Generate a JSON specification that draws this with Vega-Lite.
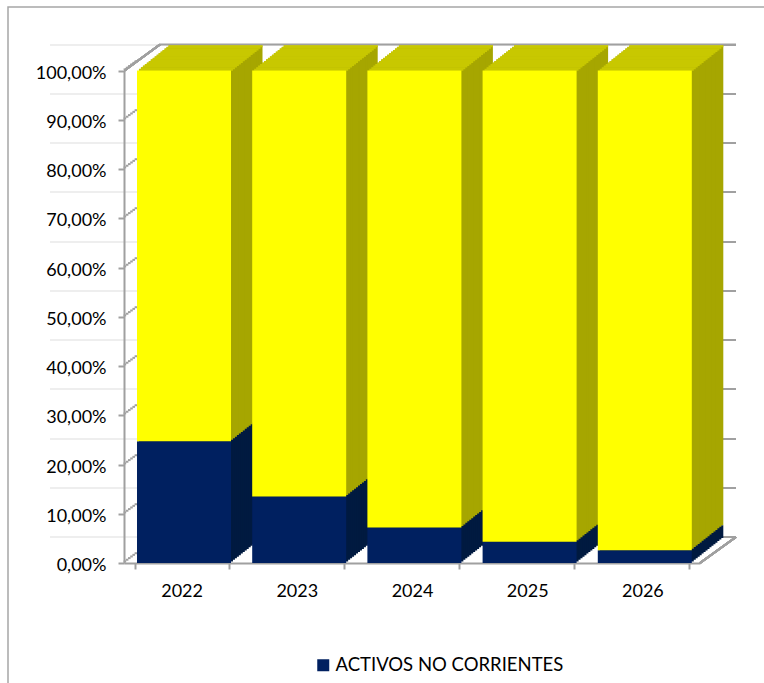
{
  "$schema": "https://vega.github.io/schema/vega-lite/v6.json",
  "usermeta": {"embedOptions": {"actions": false}},
  "autosize": {"type": "none"},
  "padding": {"left": 8, "top": 7, "right": -4, "bottom": -4},
  "width": 760,
  "height": 680,
  "background": "white",
  "view": {"stroke": "#a6a6a6", "strokeWidth": 1.5},
  "config": {"font": "Lato"},
  "data": {"values": [
    {"anio": "2022", "serie": "ACTIVOS NO CORRIENTES", "valor": 24.7},
    {"anio": "2022", "serie": "ACTIVOS CORRIENTES", "valor": 75.3},
    {"anio": "2023", "serie": "ACTIVOS NO CORRIENTES", "valor": 13.5},
    {"anio": "2023", "serie": "ACTIVOS CORRIENTES", "valor": 86.5},
    {"anio": "2024", "serie": "ACTIVOS NO CORRIENTES", "valor": 7.2},
    {"anio": "2024", "serie": "ACTIVOS CORRIENTES", "valor": 92.8},
    {"anio": "2025", "serie": "ACTIVOS NO CORRIENTES", "valor": 4.3},
    {"anio": "2025", "serie": "ACTIVOS CORRIENTES", "valor": 95.7},
    {"anio": "2026", "serie": "ACTIVOS NO CORRIENTES", "valor": 2.6},
    {"anio": "2026", "serie": "ACTIVOS CORRIENTES", "valor": 97.4}
  ]},
  "encoding": {
    "x": {"field": "anio", "type": "ordinal", "scale": {"range": [116, 692], "paddingInner": 0.184, "paddingOuter": 0.092}, "axis": null},
    "y": {"field": "valor", "type": "quantitative", "stack": "zero", "scale": {"domain": [0, 100], "range": [556, 63.5], "nice": false}, "axis": null},
    "order": {"field": "serie", "sort": "descending"}
  },
  "resolve": {"axis": {"x": "independent", "y": "independent"}},
  "layer": [
    {"mark": {"type": "bar", "xOffset": 33.9, "x2Offset": 33.9, "yOffset": -25, "y2Offset": -25},
     "encoding": {
       "x": {"field": "anio", "type": "ordinal", "axis": {"orient": "top", "title": null, "labels": false, "ticks": false, "domain": true, "domainColor": "#a0a0a0", "domainWidth": 2, "translate": 36, "offset": -1.5}},
       "y": {"field": "valor", "type": "quantitative", "stack": "zero", "axis": {"orient": "right", "title": null, "labels": false, "domain": false, "ticks": true, "tickSize": 14, "tickWidth": 2, "tickColor": "#a0a0a0", "values": [0,10,20,30,40,50,60,70,80,90,100], "translate": -26, "offset": -20}},
       "detail": {"field": "serie"},
       "color": {"condition": {"test": "datum.serie === 'ACTIVOS NO CORRIENTES'", "value": "#001a40"}, "value": "#a6a600"}}},
    {"mark": {"type": "bar", "xOffset": 31.93, "x2Offset": 31.93, "yOffset": -23.44, "y2Offset": -23.44}, "encoding": {"detail": {"field": "serie"}, "color": {"condition": {"test": "datum.serie === 'ACTIVOS NO CORRIENTES'", "value": "#001a40"}, "value": "#a6a600"}}},
    {"mark": {"type": "bar", "xOffset": 29.96, "x2Offset": 29.96, "yOffset": -21.88, "y2Offset": -21.88}, "encoding": {"detail": {"field": "serie"}, "color": {"condition": {"test": "datum.serie === 'ACTIVOS NO CORRIENTES'", "value": "#001a40"}, "value": "#a6a600"}}},
    {"mark": {"type": "bar", "xOffset": 27.99, "x2Offset": 27.99, "yOffset": -20.31, "y2Offset": -20.31}, "encoding": {"detail": {"field": "serie"}, "color": {"condition": {"test": "datum.serie === 'ACTIVOS NO CORRIENTES'", "value": "#001a40"}, "value": "#a6a600"}}},
    {"mark": {"type": "bar", "xOffset": 26.03, "x2Offset": 26.03, "yOffset": -18.75, "y2Offset": -18.75}, "encoding": {"detail": {"field": "serie"}, "color": {"condition": {"test": "datum.serie === 'ACTIVOS NO CORRIENTES'", "value": "#001a40"}, "value": "#a6a600"}}},
    {"mark": {"type": "bar", "xOffset": 24.06, "x2Offset": 24.06, "yOffset": -17.19, "y2Offset": -17.19}, "encoding": {"detail": {"field": "serie"}, "color": {"condition": {"test": "datum.serie === 'ACTIVOS NO CORRIENTES'", "value": "#001a40"}, "value": "#a6a600"}}},
    {"mark": {"type": "bar", "xOffset": 22.09, "x2Offset": 22.09, "yOffset": -15.63, "y2Offset": -15.63}, "encoding": {"detail": {"field": "serie"}, "color": {"condition": {"test": "datum.serie === 'ACTIVOS NO CORRIENTES'", "value": "#001a40"}, "value": "#a6a600"}}},
    {"mark": {"type": "bar", "xOffset": 20.12, "x2Offset": 20.12, "yOffset": -14.06, "y2Offset": -14.06}, "encoding": {"detail": {"field": "serie"}, "color": {"condition": {"test": "datum.serie === 'ACTIVOS NO CORRIENTES'", "value": "#001a40"}, "value": "#a6a600"}}},
    {"mark": {"type": "bar", "xOffset": 18.15, "x2Offset": 18.15, "yOffset": -12.5, "y2Offset": -12.5}, "encoding": {"detail": {"field": "serie"}, "color": {"condition": {"test": "datum.serie === 'ACTIVOS NO CORRIENTES'", "value": "#001a40"}, "value": "#a6a600"}}},
    {"mark": {"type": "bar", "xOffset": 16.18, "x2Offset": 16.18, "yOffset": -10.94, "y2Offset": -10.94}, "encoding": {"detail": {"field": "serie"}, "color": {"condition": {"test": "datum.serie === 'ACTIVOS NO CORRIENTES'", "value": "#001a40"}, "value": "#a6a600"}}},
    {"mark": {"type": "bar", "xOffset": 14.21, "x2Offset": 14.21, "yOffset": -9.38, "y2Offset": -9.38}, "encoding": {"detail": {"field": "serie"}, "color": {"condition": {"test": "datum.serie === 'ACTIVOS NO CORRIENTES'", "value": "#001a40"}, "value": "#a6a600"}}},
    {"mark": {"type": "bar", "xOffset": 12.24, "x2Offset": 12.24, "yOffset": -7.81, "y2Offset": -7.81}, "encoding": {"detail": {"field": "serie"}, "color": {"condition": {"test": "datum.serie === 'ACTIVOS NO CORRIENTES'", "value": "#001a40"}, "value": "#a6a600"}}},
    {"mark": {"type": "bar", "xOffset": 10.28, "x2Offset": 10.28, "yOffset": -6.25, "y2Offset": -6.25}, "encoding": {"detail": {"field": "serie"}, "color": {"condition": {"test": "datum.serie === 'ACTIVOS NO CORRIENTES'", "value": "#001a40"}, "value": "#a6a600"}}},
    {"mark": {"type": "bar", "xOffset": 8.31, "x2Offset": 8.31, "yOffset": -4.69, "y2Offset": -4.69}, "encoding": {"detail": {"field": "serie"}, "color": {"condition": {"test": "datum.serie === 'ACTIVOS NO CORRIENTES'", "value": "#001a40"}, "value": "#a6a600"}}},
    {"mark": {"type": "bar", "xOffset": 6.34, "x2Offset": 6.34, "yOffset": -3.13, "y2Offset": -3.13}, "encoding": {"detail": {"field": "serie"}, "color": {"condition": {"test": "datum.serie === 'ACTIVOS NO CORRIENTES'", "value": "#001a40"}, "value": "#a6a600"}}},
    {"mark": {"type": "bar", "xOffset": 4.37, "x2Offset": 4.37, "yOffset": -1.56, "y2Offset": -1.56}, "encoding": {"detail": {"field": "serie"}, "color": {"condition": {"test": "datum.serie === 'ACTIVOS NO CORRIENTES'", "value": "#001a40"}, "value": "#a6a600"}}},
    {"transform": [{"filter": "datum.serie === 'ACTIVOS CORRIENTES'"}], "mark": {"type": "tick", "orient": "horizontal", "size": 94, "thickness": 2, "opacity": 1, "color": "#c8c800", "xOffset": 33.9, "yOffset": -24.22}, "encoding": {"y": {"datum": 100}}},
    {"transform": [{"filter": "datum.serie === 'ACTIVOS CORRIENTES'"}], "mark": {"type": "tick", "orient": "horizontal", "size": 94, "thickness": 2, "opacity": 1, "color": "#c8c800", "xOffset": 31.93, "yOffset": -22.66}, "encoding": {"y": {"datum": 100}}},
    {"transform": [{"filter": "datum.serie === 'ACTIVOS CORRIENTES'"}], "mark": {"type": "tick", "orient": "horizontal", "size": 94, "thickness": 2, "opacity": 1, "color": "#c8c800", "xOffset": 29.96, "yOffset": -21.09}, "encoding": {"y": {"datum": 100}}},
    {"transform": [{"filter": "datum.serie === 'ACTIVOS CORRIENTES'"}], "mark": {"type": "tick", "orient": "horizontal", "size": 94, "thickness": 2, "opacity": 1, "color": "#c8c800", "xOffset": 27.99, "yOffset": -19.53}, "encoding": {"y": {"datum": 100}}},
    {"transform": [{"filter": "datum.serie === 'ACTIVOS CORRIENTES'"}], "mark": {"type": "tick", "orient": "horizontal", "size": 94, "thickness": 2, "opacity": 1, "color": "#c8c800", "xOffset": 26.03, "yOffset": -17.97}, "encoding": {"y": {"datum": 100}}},
    {"transform": [{"filter": "datum.serie === 'ACTIVOS CORRIENTES'"}], "mark": {"type": "tick", "orient": "horizontal", "size": 94, "thickness": 2, "opacity": 1, "color": "#c8c800", "xOffset": 24.06, "yOffset": -16.41}, "encoding": {"y": {"datum": 100}}},
    {"transform": [{"filter": "datum.serie === 'ACTIVOS CORRIENTES'"}], "mark": {"type": "tick", "orient": "horizontal", "size": 94, "thickness": 2, "opacity": 1, "color": "#c8c800", "xOffset": 22.09, "yOffset": -14.84}, "encoding": {"y": {"datum": 100}}},
    {"transform": [{"filter": "datum.serie === 'ACTIVOS CORRIENTES'"}], "mark": {"type": "tick", "orient": "horizontal", "size": 94, "thickness": 2, "opacity": 1, "color": "#c8c800", "xOffset": 20.12, "yOffset": -13.28}, "encoding": {"y": {"datum": 100}}},
    {"transform": [{"filter": "datum.serie === 'ACTIVOS CORRIENTES'"}], "mark": {"type": "tick", "orient": "horizontal", "size": 94, "thickness": 2, "opacity": 1, "color": "#c8c800", "xOffset": 18.15, "yOffset": -11.72}, "encoding": {"y": {"datum": 100}}},
    {"transform": [{"filter": "datum.serie === 'ACTIVOS CORRIENTES'"}], "mark": {"type": "tick", "orient": "horizontal", "size": 94, "thickness": 2, "opacity": 1, "color": "#c8c800", "xOffset": 16.18, "yOffset": -10.16}, "encoding": {"y": {"datum": 100}}},
    {"transform": [{"filter": "datum.serie === 'ACTIVOS CORRIENTES'"}], "mark": {"type": "tick", "orient": "horizontal", "size": 94, "thickness": 2, "opacity": 1, "color": "#c8c800", "xOffset": 14.21, "yOffset": -8.59},
     "encoding": {"y": {"datum": 100, "axis": {"orient": "left", "title": null, "labels": false, "domain": false, "ticks": true, "tickSize": 2.6, "tickWidth": 2, "tickColor": "#a0a0a0", "values": [0,10,20,30,40,50,60,70,80,90,100], "translate": -9.78, "offset": -138.98}}}},
    {"transform": [{"filter": "datum.serie === 'ACTIVOS CORRIENTES'"}], "mark": {"type": "tick", "orient": "horizontal", "size": 94, "thickness": 2, "opacity": 1, "color": "#c8c800", "xOffset": 12.24, "yOffset": -7.03},
     "encoding": {"y": {"datum": 100, "axis": {"orient": "left", "title": null, "labels": false, "domain": false, "ticks": true, "tickSize": 2.6, "tickWidth": 2, "tickColor": "#a0a0a0", "values": [0,10,20,30,40,50,60,70,80,90,100], "translate": -8.15, "offset": -135.15}}}},
    {"transform": [{"filter": "datum.serie === 'ACTIVOS CORRIENTES'"}], "mark": {"type": "tick", "orient": "horizontal", "size": 94, "thickness": 2, "opacity": 1, "color": "#c8c800", "xOffset": 10.28, "yOffset": -5.47},
     "encoding": {"y": {"datum": 100, "axis": {"orient": "left", "title": null, "labels": false, "domain": false, "ticks": true, "tickSize": 2.6, "tickWidth": 2, "tickColor": "#a0a0a0", "values": [0,10,20,30,40,50,60,70,80,90,100], "translate": -6.52, "offset": -131.32}}}},
    {"transform": [{"filter": "datum.serie === 'ACTIVOS CORRIENTES'"}], "mark": {"type": "tick", "orient": "horizontal", "size": 94, "thickness": 2, "opacity": 1, "color": "#c8c800", "xOffset": 8.31, "yOffset": -3.91},
     "encoding": {"y": {"datum": 100, "axis": {"orient": "left", "title": null, "labels": false, "domain": false, "ticks": true, "tickSize": 2.6, "tickWidth": 2, "tickColor": "#a0a0a0", "values": [0,10,20,30,40,50,60,70,80,90,100], "translate": -4.89, "offset": -127.49}}}},
    {"transform": [{"filter": "datum.serie === 'ACTIVOS CORRIENTES'"}], "mark": {"type": "tick", "orient": "horizontal", "size": 94, "thickness": 2, "opacity": 1, "color": "#c8c800", "xOffset": 6.34, "yOffset": -2.34},
     "encoding": {"y": {"datum": 100, "axis": {"orient": "left", "title": null, "labels": false, "domain": false, "ticks": true, "tickSize": 2.6, "tickWidth": 2, "tickColor": "#a0a0a0", "values": [0,10,20,30,40,50,60,70,80,90,100], "translate": -3.26, "offset": -123.66}}}},
    {"transform": [{"filter": "datum.serie === 'ACTIVOS CORRIENTES'"}], "mark": {"type": "tick", "orient": "horizontal", "size": 94, "thickness": 2, "opacity": 1, "color": "#c8c800", "xOffset": 4.37, "yOffset": -0.78},
     "encoding": {"y": {"datum": 100, "axis": {"orient": "left", "title": null, "labels": false, "domain": false, "ticks": true, "tickSize": 2.6, "tickWidth": 2, "tickColor": "#a0a0a0", "values": [0,10,20,30,40,50,60,70,80,90,100], "translate": -1.63, "offset": -119.83}}}},
    {"mark": {"type": "rule", "color": "#a0a0a0", "strokeWidth": 2, "xOffset": -10.1, "x2Offset": -21.6, "y2Offset": -26},
     "encoding": {"x": {"datum": "2022", "bandPosition": 0}, "x2": {"datum": "2022"}, "y": {"datum": 100}, "y2": {"datum": 100}}},
    {"mark": {"type": "rule", "color": "#a0a0a0", "strokeWidth": 2, "xOffset": 10.6, "x2Offset": 93.6, "y2Offset": -26},
     "encoding": {"x": {"datum": "2026", "bandPosition": 1}, "x2": {"datum": "2026"}, "y": {"datum": 0}, "y2": {"datum": 0}}},
    {"mark": {"type": "bar", "xOffset": 2.4, "x2Offset": 2.4},
     "encoding": {
       "x": {"field": "anio", "type": "ordinal", "axis": {"orient": "bottom", "title": null, "labelAngle": 0, "tickBand": "extent", "tickSize": 6, "tickWidth": 2, "tickColor": "#a0a0a0", "domainColor": "#a0a0a0", "domainWidth": 2, "labelFont": "Lato", "labelFontSize": 18, "labelColor": "#000000", "labelPadding": 13, "offset": -124}},
       "y": {"field": "valor", "type": "quantitative", "stack": "zero", "axis": {"orient": "left", "title": null, "values": [0,10,20,30,40,50,60,70,80,90,100], "labelExpr": "replace(format(datum.value, '.2f'), '.', ',') + '%'", "tickSize": 6, "tickWidth": 2, "tickColor": "#a0a0a0", "domainColor": "#a0a0a0", "domainWidth": 2, "labelFont": "Lato", "labelFontSize": 18, "labelColor": "#000000", "labelPadding": 12, "labelOffset": 2.5, "offset": -116}},
       "color": {"field": "serie", "type": "nominal", "scale": {"domain": ["ACTIVOS NO CORRIENTES", "ACTIVOS CORRIENTES"], "range": ["#002060", "#ffff00"]},
         "legend": {"title": null, "values": ["ACTIVOS NO CORRIENTES"], "orient": "none", "legendX": 306, "legendY": 649, "symbolType": "square", "symbolSize": 144, "symbolStrokeWidth": 0, "labelFont": "Lato", "labelFontSize": 18.5, "labelLimit": 0, "labelColor": "#000000", "labelOffset": 3}}}}
  ]
}
